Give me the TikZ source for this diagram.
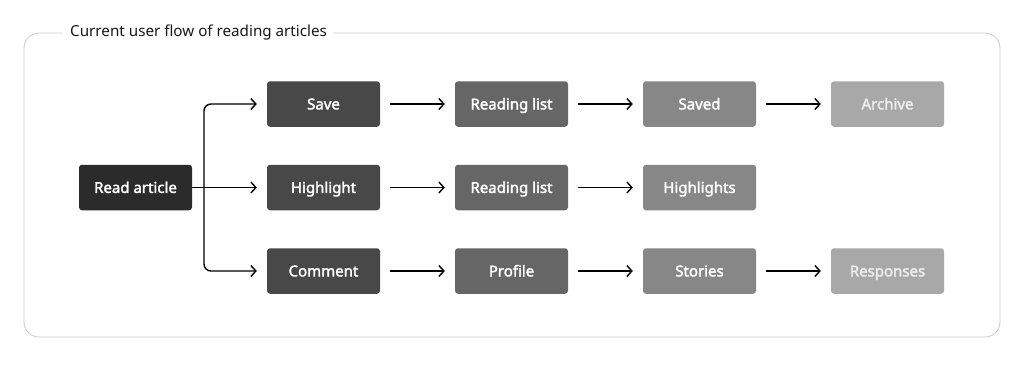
\documentclass[tikz,border=0pt]{standalone}
\usepackage{fontspec}
\setmainfont{Noto Sans}
\newfontfamily\medfont[FakeBold=2.2]{Noto Sans}
\usetikzlibrary{arrows.meta}
\definecolor{c1}{HTML}{2B2B2B}
\definecolor{c2}{HTML}{484848}
\definecolor{c3}{HTML}{666666}
\definecolor{c4}{HTML}{878787}
\definecolor{c5}{HTML}{A8A8A8}
\definecolor{framec}{HTML}{CCCCCC}
\begin{document}
\begin{tikzpicture}[x=1pt,y=-1pt,
  flowbox/.style={rectangle, rounded corners=3pt, minimum width=113pt, minimum height=45.5pt, inner sep=0pt, text=white, text height=12.8pt, text depth=2pt, font=\medfont\fontsize{15}{18}\selectfont},
  flowarrow/.style={-{Straight Barb[length=5pt,width=11pt,line width=1.4pt]}, line width=1.4pt, black}]
\useasboundingbox[fill=white] (0,0) rectangle (1024,365);
% frame
\draw[framec, line width=0.9pt, rounded corners=15pt] (62,33) -- (24,33) -- (24,337) -- (1000,337) -- (1000,33) -- (333,33);
\node[anchor=west, inner sep=0pt, font=\fontsize{15.2}{18}\selectfont, text=black!90] (title) at (70,33) {Current user flow of reading articles};
% nodes
\node[flowbox, fill=c1] (read) at (135.5,187.5) {Read article};
\node[flowbox, fill=c2] (save) at (323.5,104) {Save};
\node[flowbox, fill=c2] (highlight) at (323.5,187.5) {Highlight};
\node[flowbox, fill=c2] (comment) at (323.5,271) {Comment};
\node[flowbox, fill=c3] (rl1) at (511.5,104) {Reading list};
\node[flowbox, fill=c3] (rl2) at (511.5,187.5) {Reading list};
\node[flowbox, fill=c3] (profile) at (511.5,271) {Profile};
\node[flowbox, fill=c4] (saved) at (699.5,104) {Saved};
\node[flowbox, fill=c4] (highlights) at (699.5,187.5) {Highlights};
\node[flowbox, fill=c4] (stories) at (699.5,271) {Stories};
\node[flowbox, fill=c5, text=white!93!black] (archive) at (887.5,104) {Archive};
\node[flowbox, fill=c5, text=white!93!black] (responses) at (887.5,271) {Responses};
% branch
\coordinate (bx) at (204,187.5);
\draw[flowarrow] (read.east) -- ([xshift=-10pt]highlight.west);
\draw[flowarrow, rounded corners=7pt] (bx) |- ([xshift=-10pt]save.west);
\draw[flowarrow, rounded corners=7pt] (bx) |- ([xshift=-10pt]comment.west);
% chains
\foreach \a/\b in {save/rl1, rl1/saved, saved/archive, highlight/rl2, rl2/highlights, comment/profile, profile/stories, stories/responses}{
  \draw[flowarrow] ([xshift=10pt]\a.east) -- ([xshift=-10pt]\b.west);
}
\end{tikzpicture}
\end{document}
